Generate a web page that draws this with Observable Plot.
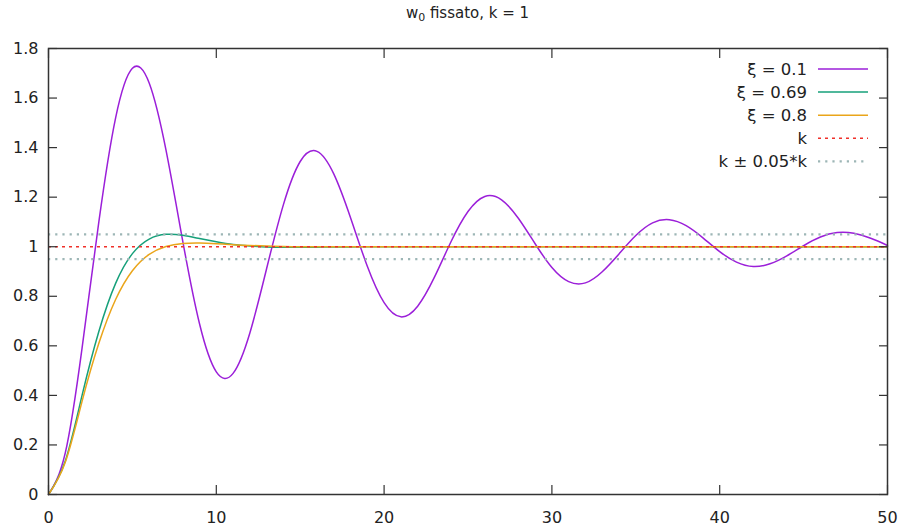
<!DOCTYPE html>
<html>
<head>
<meta charset="utf-8">
<script src="https://cdn.jsdelivr.net/npm/d3@7"></script>
<script src="https://cdn.jsdelivr.net/npm/@observablehq/plot@0.6"></script>
<style>
  body { margin: 0; background: #fff; font-family: "DejaVu Sans", sans-serif; }
  #title { height: 28px; box-sizing: border-box; padding: 4px 16px 0 48px; text-align: center;
           font-size: 15px; line-height: 18px; color: #222; }
  #title sub { font-size: 11px; vertical-align: -3px; line-height: 0; }
  #chart svg { display: block; }
</style>
</head>
<body>
<div id="title">w<sub>0</sub> fissato, k = 1</div>
<div id="chart"></div>
<script>
// ---- data ----
const t = [0,1,2,3,4,5,6,7,8,9,10,11,12,13,14,15,16,17,18,19,20,21,22,23,24,25,26,27,28,29,30,31,32,33,34,35,36,37,38,39,40,41,42,43,44,45,46,47,48,49,50];

const xi01 = [0,0.168,0.591,1.100,1.520,1.720,1.661,1.391,1.023,0.689,0.495,0.489,0.652,0.912,1.170,1.344,1.385,1.294,1.117,0.921,
  0.774,0.717,0.760,0.877,1.022,1.142,1.203,1.189,1.115,1.012,0.916,0.859,0.854,0.899,0.971,1.045,1.096,1.109,1.085,1.036,
  0.980,0.938,0.920,0.931,0.963,1.004,1.039,1.057,1.054,1.034,1.005];

const xi069 = [0,0.135,0.400,0.658,0.852,0.972,1.031,1.050,1.046,1.033,1.020,1.009,1.003,0.999,0.998,0.998,0.998,0.999,0.999,1,
  1,1,1,1,1,1,1,1,1,1,1,1,1,1,1,1,1,1,1,1,1,1,1,1,1,1,1,1,1,1,1];

const xi08 = [0,0.130,0.376,0.610,0.787,0.903,0.969,1.001,1.013,1.015,1.012,1.008,1.005,1.003,1.001,1,1,1,1,1,
  1,1,1,1,1,1,1,1,1,1,1,1,1,1,1,1,1,1,1,1,1,1,1,1,1,1,1,1,1,1,1];

const seriesNames = ["ξ = 0.1", "ξ = 0.69", "ξ = 0.8"];
const kValue = [1];
const bandValues = [0.95, 1.05];
const legendLabels = ["ξ = 0.1", "ξ = 0.69", "ξ = 0.8", "k", "k ± 0.05*k"];
const xTicks = [0, 10, 20, 30, 40, 50];
const yTicks = [0, 0.2, 0.4, 0.6, 0.8, 1, 1.2, 1.4, 1.6, 1.8];

// ---- styles ----
const lineColors = ["#9b1fd9", "#16a07a", "#eaa51a"];
const kColor = "#f0302a";
const bandColor = "#9db6b6";
const kDash = "3,4";
const bandDash = "2.2,5";

const seriesValues = [xi01, xi069, xi08];
const rows = seriesValues.map((vals, i) => t.map((tt, j) => ({t: tt, y: vals[j], s: seriesNames[i]})));

const axisStroke = "#333";
const chart = Plot.plot({
  width: 903,
  height: 503,
  marginTop: 20,
  marginBottom: 37,
  marginLeft: 48,
  marginRight: 16,
  style: {fontFamily: "DejaVu Sans, sans-serif", fontSize: "16px", color: "#222", background: "#fff"},
  x: {domain: [0, 50]},
  y: {domain: [0, 1.8]},
  marks: [
    ...rows.map((r, i) => Plot.line(r, {x: "t", y: "y", stroke: lineColors[i], strokeWidth: 1.5, curve: "natural"})),
    Plot.ruleY(kValue, {stroke: kColor, strokeWidth: 1.4, strokeDasharray: kDash}),
    Plot.ruleY(bandValues, {stroke: bandColor, strokeWidth: 2.2, strokeDasharray: bandDash}),
    // labels
    Plot.axisX({ticks: xTicks, tickSize: 0, tickPadding: 17, tickFormat: d3.format("~g"), label: null}),
    Plot.axisY({ticks: yTicks, tickSize: 0, tickPadding: 10, tickFormat: d3.format("~g"), label: null}),
    // inward ticks on all four sides
    Plot.axisX({ticks: xTicks, anchor: "bottom", tickSize: 9, dy: -9, fill: "none", stroke: axisStroke, strokeWidth: 1.2, label: null}),
    Plot.axisX({ticks: xTicks, anchor: "top", tickSize: 9, dy: 9, fill: "none", stroke: axisStroke, strokeWidth: 1.2, label: null}),
    Plot.axisY({ticks: yTicks, anchor: "left", tickSize: 9, dx: 9, fill: "none", stroke: axisStroke, strokeWidth: 1.2, label: null}),
    Plot.axisY({ticks: yTicks, anchor: "right", tickSize: 9, dx: -9, fill: "none", stroke: axisStroke, strokeWidth: 1.2, label: null}),
    Plot.frame({stroke: axisStroke, strokeWidth: 1.5})
  ]
});
document.getElementById("chart").appendChild(chart);

// ---- legend (top right, inside the plot frame) ----
const svg = d3.select(chart.tagName.toLowerCase() === "svg" ? chart : chart.querySelector("svg"));
const legendStyles = [
  {stroke: lineColors[0], width: 1.5, dash: null},
  {stroke: lineColors[1], width: 1.5, dash: null},
  {stroke: lineColors[2], width: 1.5, dash: null},
  {stroke: kColor, width: 1.4, dash: kDash},
  {stroke: bandColor, width: 2.2, dash: bandDash}
];
const lg = svg.append("g").attr("font-family", "DejaVu Sans, sans-serif").attr("font-size", 16.5).attr("fill", "#222");
legendLabels.forEach((lab, i) => {
  const cy = 41 + i * 23.1;
  lg.append("text").attr("x", 807).attr("y", cy).attr("dy", "0.35em").attr("text-anchor", "end").text(lab);
  lg.append("line").attr("x1", 818).attr("x2", 868).attr("y1", cy).attr("y2", cy)
    .attr("stroke", legendStyles[i].stroke).attr("stroke-width", legendStyles[i].width)
    .attr("stroke-dasharray", legendStyles[i].dash);
});
</script>
</body>
</html>
